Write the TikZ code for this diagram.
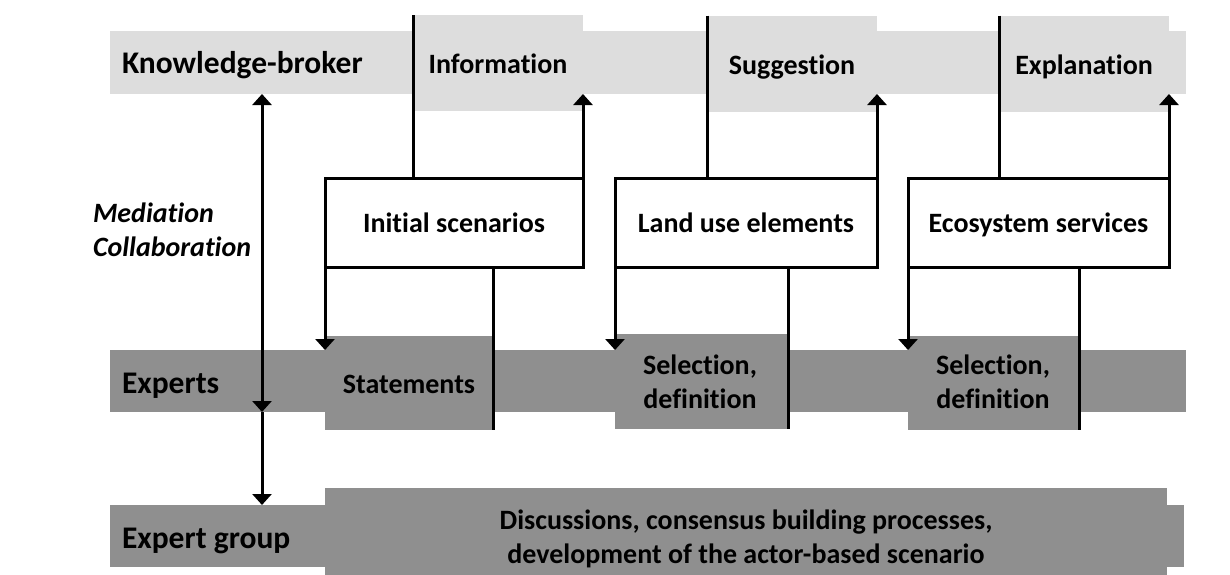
\documentclass[tikz,border=0pt]{standalone}
\usepackage{fontspec}
\setmainfont{Carlito}[Ligatures=NoCommon]
\usetikzlibrary{arrows.meta}
\definecolor{brokerfill}{RGB}{221,221,221}
\definecolor{expertfill}{RGB}{143,143,143}

\begin{document}
\begin{tikzpicture}[x=1pt,y=-1pt,
  lightrect/.style={fill=brokerfill, draw=none, inner sep=0, outer sep=0},
  darkrect/.style={fill=expertfill, draw=none, inner sep=0, outer sep=0},
  stepbox/.style={draw=black, line width=3pt, fill=white, inner sep=0, outer sep=0},
  txt/.style={font=\bfseries\fontsize{28}{33.5}\selectfont, inner sep=0, outer sep=0},
  rolename/.style={txt, font=\bfseries\fontsize{31.5}{36}\selectfont, anchor=base west},
  link/.style={line width=3pt},
  arr/.style={link, -{Triangle[width=19pt,length=11pt]}}]

\useasboundingbox (0,0) rectangle (1230,574);
\clip (0,0) rectangle (1230,574);

% --- role bands ---
\node[lightrect, minimum width=1076pt, minimum height=63pt] (kb) at (648,62.5) {};
\node[darkrect,  minimum width=1076pt, minimum height=62pt] (ex) at (648,381) {};
\node[darkrect,  minimum width=1074pt, minimum height=62pt] (eg) at (647,536) {};

% --- broker outputs ---
\node[lightrect, minimum width=170pt, minimum height=96pt] (info) at (498,63) {};
\node[lightrect, minimum width=170pt, minimum height=96pt] (sugg) at (792,63.5) {};
\node[lightrect, minimum width=170pt, minimum height=96pt] (expl) at (1084,63.5) {};

% --- expert outputs ---
\node[darkrect, minimum width=168pt, minimum height=94pt] (stat) at (409,383) {};
\node[darkrect, minimum width=173pt, minimum height=95pt] (sel1) at (701.5,381.5) {};
\node[darkrect, minimum width=171pt, minimum height=94pt] (sel2) at (993.5,383) {};
\node[darkrect, minimum width=842pt, minimum height=96pt] (disc) at (746,536) {};

% --- working steps ---
\node[stepbox, minimum width=258pt, minimum height=89pt] (init) at (454,222.5) {};
\node[stepbox, minimum width=262pt, minimum height=89pt] (land) at (746,222.5) {};
\node[stepbox, minimum width=261pt, minimum height=89pt] (eco)  at (1038.5,222.5) {};

% --- labels (multi-line nodes: base = baseline of the last line) ---
\node[rolename] (tkb) at (122,73) {Knowledge-broker};
\node[txt, anchor=base] (tinfo) at (498,73) {Information};
\node[txt, anchor=base] (tsugg) at (792,74) {Suggestion};
\node[txt, anchor=base] (texpl) at (1084,74) {Explanation};

\node[txt, anchor=base] (tinit) at (454,232) {Initial scenarios};
\node[txt, anchor=base] (tland) at (746,232) {Land use elements};
\node[txt, anchor=base] (teco)  at (1038.5,232) {Ecosystem services};

\node[txt, font=\bfseries\itshape\fontsize{28}{34}\selectfont, align=left, anchor=base west] (tmed) at (93,256) {Mediation\\Collaboration};

\node[rolename] (tex) at (122,393) {Experts};
\node[txt, anchor=base] (tstat) at (409,393) {Statements};
\node[txt, align=center, anchor=base] (tsel1) at (700,408) {Selection,\\definition};
\node[txt, align=center, anchor=base] (tsel2) at (993,408) {Selection,\\definition};

\node[rolename] (teg) at (122,548) {Expert group};
\node[txt, align=center, anchor=base] (tdisc) at (746,563) {Discussions, consensus building processes,\\development of the actor-based scenario};

% --- broker to step, step back to broker ---
\foreach \out/\st in {info/init, sugg/land, expl/eco}{
  \draw[link] (\out.north west) -- (\out.north west |- \st.north);
  \draw[arr] (\st.north east) -- (\st.north east |- kb.south);
}

% --- step to experts, experts back to step ---
\foreach \st/\res in {init/stat, land/sel1, eco/sel2}{
  \draw[arr] (\st.south west) -- (\st.south west |- ex.north);
  \draw[link] (\res.east |- \st.south) -- (\res.south east);
}

% --- mediation axis ---
\coordinate (med) at (262,0);
\draw[link, {Triangle[width=19pt,length=11pt]}-{Triangle[width=19pt,length=11pt]}] (med |- kb.south) -- (med |- ex.south);
\draw[arr] (med |- ex.south) -- (med |- eg.north);
\end{tikzpicture}
\end{document}
